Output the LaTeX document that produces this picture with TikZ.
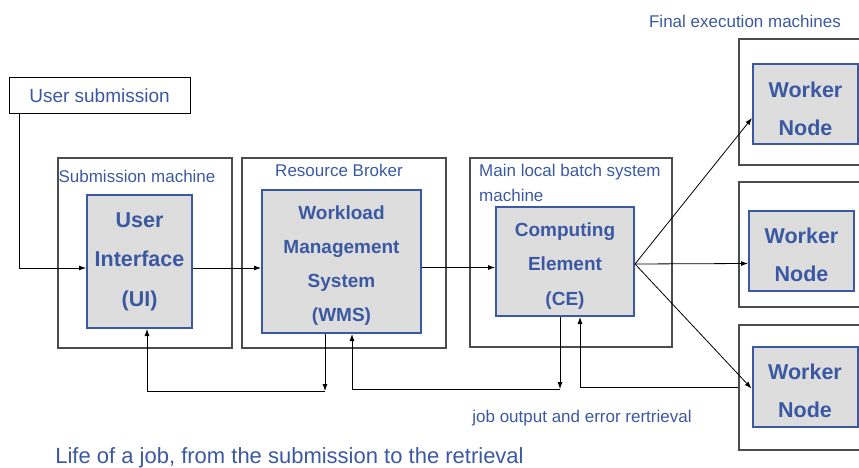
\documentclass[tikz,border=0pt]{standalone}
\usepackage{fontspec}
\setmainfont{Liberation Sans}
\usetikzlibrary{positioning, arrows.meta}
\definecolor{ink}{RGB}{59,89,163}
\definecolor{boxgray}{RGB}{221,221,221}

\begin{document}
\begin{tikzpicture}[x=1pt,y=-1pt,
    mach/.style={draw=black!70,line width=1.1pt,inner sep=0pt},
    comp/.style={draw=ink,line width=2pt,fill=boxgray,align=center,text=ink,inner sep=0pt},
    lbl/.style={text=ink,font=\fontsize{17}{25}\selectfont,inner sep=0pt},
    conn/.style={line width=0.8pt,-{Latex[length=7pt,width=5pt]}}]
  \useasboundingbox (0,0) rectangle (859,468);
  \node[draw,line width=1pt,minimum width=181pt,minimum height=36pt,text=ink,
        font=\fontsize{19}{23}\selectfont](usr) at (99.5,96){User submission};
  \node[mach,minimum width=174pt,minimum height=190pt](subm) at (145,253){};
  \node[mach,minimum width=204pt,minimum height=190pt](rb) at (344,253){};
  \node[mach,minimum width=202pt,minimum height=189pt](mlb) at (571,252.5){};
  \node[mach,minimum width=123pt,minimum height=126pt](wm1) at (800.5,102){};
  \node[mach,minimum width=123pt,minimum height=125pt](wm2) at (800.5,244.5){};
  \node[mach,minimum width=123pt,minimum height=125pt](wm3) at (800.5,387.5){};
  \node[lbl](subml) at (137,176){Submission machine};
  \node[lbl](rbl) at (339,170){Resource Broker};
  \node[lbl,align=left,anchor=north west](mlbl) at (479,164){Main local batch system\\machine};
  \node[lbl](fin) at (745,21){Final execution machines};
  \node[comp,minimum width=105pt,minimum height=133pt,
        font=\bfseries\fontsize{21.5}{39.5}\selectfont](ui) at (139.5,261.5){User\\Interface\\(UI)};
  \node[comp,minimum width=159pt,minimum height=143pt,
        font=\bfseries\fontsize{19}{34}\selectfont](wms) at (341.5,261.5){\rule{0pt}{22pt}Workload\\Management\\System\\(WMS)};
  \node[comp,minimum width=138pt,minimum height=109pt,
        font=\bfseries\fontsize{19}{34.5}\selectfont](ce) at (565,261.5){\rule{0pt}{22pt}Computing\\Element\\(CE)};
  \node[comp,minimum width=105pt,minimum height=80pt,
        font=\bfseries\fontsize{21.5}{38}\selectfont](wn1) at (805.5,104.5){\rule{0pt}{23.5pt}Worker\\Node};
  \node[comp,minimum width=105pt,minimum height=80pt,
        font=\bfseries\fontsize{21.5}{38}\selectfont](wn2) at (801.5,250.5){\rule{0pt}{23.5pt}Worker\\Node};
  \node[comp,minimum width=105pt,minimum height=80pt,
        font=\bfseries\fontsize{21.5}{38}\selectfont](wn3) at (805,386.5){\rule{0pt}{23.5pt}Worker\\Node};
  \node[lbl](ret) at (582,418){job output and error rertrieval};
  \node[lbl,font=\fontsize{22}{26}\selectfont](cap) at (289.5,458){Life of a job, from the submission to the retrieval};
  % submission path
  \draw[conn]([xshift=11pt]usr.south west) |- ([yshift=-6.5pt]ui.west);
  \draw[conn]([yshift=-6.5pt]ui.east) -- ([yshift=-6.5pt]wms.west);
  \draw[conn]([yshift=-6pt]wms.east) -- ([yshift=-6pt]ce.west);
  \coordinate (fan) at ([yshift=-2.5pt]ce.east);
  \draw[conn](fan) -- ([yshift=-13.5pt]wn1.west);
  \draw[conn](fan) -- ([yshift=-13pt]wn2.west);
  \draw[conn](fan) -- ([yshift=-2pt]wn3.west);
  % retrieval path
  \draw[conn]([xshift=-16.5pt]wms.south) -- ++(0,57) coordinate (r1);
  \draw[conn](r1) -| ([xshift=7.5pt]ui.south);
  \draw[conn]([xshift=-5pt]ce.south) -- ++(0,72) coordinate (r2);
  \draw[conn](r2) -| ([xshift=10.5pt]wms.south);
  \draw[conn](wm3.west) -| ([xshift=15pt]ce.south);
\end{tikzpicture}
\end{document}
